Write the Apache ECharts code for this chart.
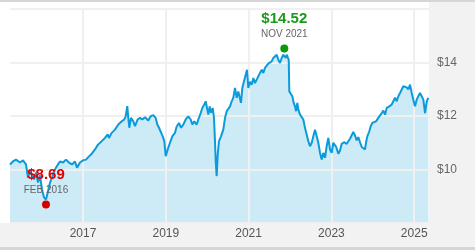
<!DOCTYPE html>
<html><head><meta charset="utf-8">
<script src="https://cdn.jsdelivr.net/npm/echarts@6/dist/echarts.min.js"></script>
<style>html,body{margin:0;padding:0;background:#fff}#c{width:475px;height:250px}</style>
</head><body><div id="c"></div>
<script>
// x values are decimal years
const dates = [
2015.237,2015.309,2015.382,2015.478,2015.551,2015.623,2015.671,2015.720,2015.768,2015.816,
2015.865,2015.913,2015.961,2016.010,2016.058,2016.106,2016.155,2016.203,2016.251,2016.300,
2016.348,2016.396,2016.444,2016.517,2016.589,2016.662,2016.734,2016.807,2016.855,2016.928,
2017.000,2017.072,2017.145,2017.217,2017.290,2017.362,2017.452,2017.531,2017.597,2017.628,
2017.693,2017.773,2017.853,2017.935,2017.998,2018.031,2018.070,2018.094,2018.119,2018.159,
2018.215,2018.256,2018.321,2018.377,2018.432,2018.498,2018.577,2018.635,2018.698,2018.756,
2018.795,2018.836,2018.884,2018.925,2018.964,2018.998,2019.046,2019.101,2019.157,2019.222,
2019.263,2019.319,2019.367,2019.423,2019.481,2019.543,2019.601,2019.640,2019.688,2019.746,
2019.785,2019.843,2019.882,2019.930,2019.964,2019.995,2020.027,2020.060,2020.092,2020.133,
2020.164,2020.188,2020.205,2020.229,2020.254,2020.285,2020.333,2020.389,2020.430,2020.471,
2020.510,2020.551,2020.592,2020.630,2020.671,2020.713,2020.751,2020.792,2020.816,2020.848,
2020.889,2020.930,2020.961,2020.993,2021.034,2021.075,2021.114,2021.155,2021.196,2021.234,
2021.275,2021.316,2021.355,2021.396,2021.437,2021.476,2021.517,2021.558,2021.597,2021.638,
2021.679,2021.717,2021.758,2021.799,2021.838,2021.862,2021.896,2021.920,2021.944,2021.969,
2021.983,2022.024,2022.056,2022.089,2022.121,2022.145,2022.176,2022.200,2022.242,2022.283,
2022.321,2022.362,2022.403,2022.442,2022.483,2022.524,2022.563,2022.604,2022.645,2022.684,
2022.725,2022.766,2022.804,2022.845,2022.886,2022.925,2022.966,2023.007,2023.046,2023.065,
2023.116,2023.167,2023.208,2023.249,2023.304,2023.370,2023.408,2023.449,2023.490,2023.529,
2023.570,2023.611,2023.650,2023.691,2023.732,2023.770,2023.811,2023.836,2023.867,2023.916,
2023.949,2023.988,2024.029,2024.077,2024.133,2024.174,2024.215,2024.254,2024.295,2024.336,
2024.399,2024.457,2024.495,2024.536,2024.577,2024.616,2024.657,2024.698,2024.737,2024.778,
2024.819,2024.857,2024.899,2024.940,2024.978,2025.019,2025.060,2025.099,2025.140,2025.181,
2025.220,2025.261,2025.302,2025.341
];
const prices = [
10.19,10.30,10.37,10.26,10.34,10.19,9.70,9.96,9.78,9.63,
9.89,9.51,9.78,9.25,8.96,8.88,9.18,9.51,9.70,9.93,
10.07,10.19,10.30,10.26,10.37,10.26,10.19,10.30,10.07,10.26,
10.34,10.37,10.49,10.60,10.75,10.93,11.06,11.18,11.31,11.18,
11.37,11.49,11.68,11.80,11.87,11.99,12.37,11.93,11.56,11.93,
11.80,11.62,11.87,11.93,11.87,11.95,11.83,11.99,12.03,11.93,
11.68,11.56,11.62,11.24,11.06,10.50,10.75,11.00,11.24,11.37,
11.61,11.74,11.56,11.68,11.87,11.99,11.87,11.68,11.80,11.68,
11.87,12.11,12.30,12.43,12.55,12.30,12.05,12.36,12.12,12.30,
11.93,11.06,10.31,9.75,10.56,11.06,11.24,11.49,11.93,12.18,
12.12,12.36,12.55,12.68,13.05,12.68,12.92,12.86,12.49,13.05,
13.30,13.54,13.73,13.05,13.28,13.17,13.42,13.23,13.36,13.30,
13.61,13.73,13.61,13.80,13.86,13.96,13.98,14.04,14.17,14.23,
14.29,14.10,13.98,14.17,14.29,14.35,14.17,14.29,14.23,14.10,
12.92,12.99,12.74,12.49,12.36,12.18,12.49,12.24,12.05,12.12,
11.87,11.56,11.62,11.06,10.87,11.00,11.24,11.49,11.24,11.00,
10.62,10.37,10.62,10.44,10.87,11.18,10.75,10.62,11.00,10.96,
10.84,10.59,10.71,10.96,11.02,10.96,11.02,11.15,11.21,11.40,
11.27,11.09,11.21,11.02,10.84,10.90,10.75,11.00,11.24,11.43,
11.62,11.74,11.68,11.80,11.93,11.99,12.11,12.20,12.05,12.30,
12.36,12.43,12.49,12.68,12.55,12.74,12.86,12.99,13.11,13.05,
13.07,12.99,13.17,12.86,12.61,12.36,12.61,12.74,12.86,12.74,
12.61,12.11,12.55,12.68
];
const xTicks = [2017, 2019, 2021, 2023, 2025];
const yTicks = [10, 12, 14];
const highPoint = { date: 2021.862, value: 14.52, price: '$14.52', label: 'NOV 2021' };
const lowPoint  = { date: 2016.106, value: 8.69, price: '$8.69', label: 'FEB 2016' };

const series = dates.map((d, i) => [d, prices[i]]);
const font = '"Liberation Sans", Arial, sans-serif';
const gridColor = '#f0f0f0';

function markerSeries(p, color, dotColor) {
  return {
    type: 'scatter', z: 6, symbol: 'circle', symbolSize: 8, silent: true,
    itemStyle: { color: dotColor, opacity: 1 },
    data: [[p.date, p.value]],
    label: {
      show: true, position: 'top', distance: 3,
      formatter: '{p|' + p.price + '}\n{d|' + p.label + '}',
      rich: {
        p: { color: color, fontSize: 15, fontWeight: 'bold', fontFamily: font, lineHeight: 15, align: 'center', opacity: 1 },
        d: { color: '#666', fontSize: 10, fontFamily: font, lineHeight: 15, align: 'center', opacity: 1 }
      }
    }
  };
}

const chart = echarts.init(document.getElementById('c'), null, { renderer: 'canvas' });
chart.setOption({
  animation: false,
  backgroundColor: '#fff',
  graphic: [
    { type: 'rect', z: -10, shape: { x: 429, y: 2, width: 46, height: 245 }, style: { fill: '#f2f2f2' } },
    { type: 'rect', z: -10, shape: { x: 0, y: 223, width: 475, height: 24 }, style: { fill: '#f2f2f2' } },
    { type: 'rect', z: -10, shape: { x: 0, y: 0, width: 475, height: 2 }, style: { fill: '#d6d6d6' } },
    { type: 'rect', z: -10, shape: { x: 0, y: 247, width: 475, height: 3 }, style: { fill: '#d6d6d6' } }
  ],
  grid: { left: 10, right: 46, top: 9, bottom: 27 },
  xAxis: {
    type: 'value', min: 2015.237, max: 2025.357, z: 3,
    axisLine: { show: false },
    axisTick: { show: false, customValues: xTicks },
    axisLabel: { customValues: xTicks, color: '#555', fontSize: 12, fontFamily: font, margin: 5,
      formatter: v => String(Math.round(v)) },
    splitLine: { show: true, lineStyle: { color: gridColor, width: 2 } }
  },
  yAxis: {
    type: 'value', position: 'right', min: 8, max: 16, interval: 2, z: 3,
    axisLine: { show: false }, axisTick: { show: false },
    axisLabel: { color: '#666', fontSize: 12, fontFamily: font, margin: 8,
      formatter: v => yTicks.indexOf(v) >= 0 ? '$' + v : '' },
    splitLine: { show: true, lineStyle: { color: gridColor, width: 2 } }
  },
  series: [
    { type: 'line', z: 1, data: series, symbol: 'none', lineStyle: { width: 0 },
      areaStyle: { color: '#cdeaf7', opacity: 1 }, silent: true },
    { type: 'line', z: 4, data: series, symbol: 'none', lineStyle: { width: 2, color: '#0b9bdb' } },
    markerSeries(highPoint, '#1a9a1a', '#0a990a'),
    markerSeries(lowPoint, '#e00000', '#d40000')
  ]
});
</script>
</body></html>
